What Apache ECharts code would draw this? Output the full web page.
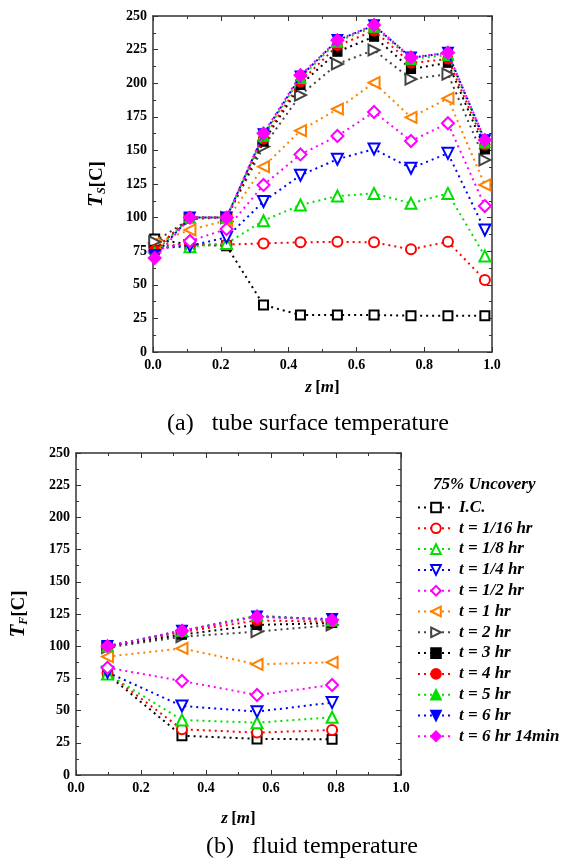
<!DOCTYPE html>
<html>
<head>
<meta charset="utf-8">
<script src="https://cdn.jsdelivr.net/npm/echarts@6/dist/echarts.min.js"></script>
<style>
  html, body { margin: 0; padding: 0; background: #fff; }
  #chart { width: 561px; height: 862px; }
</style>
</head>
<body>
<div id="chart"></div>
<script>
// Axial positions [m]
const zTube = [0.005, 0.109, 0.217, 0.326, 0.435, 0.544, 0.652, 0.761, 0.870, 0.979];
const zFluid = [0.097, 0.326, 0.557, 0.788];

// Legend labels
const seriesNames = ['I.C.', 't = 1/16 hr', 't = 1/8 hr', 't = 1/4 hr', 't = 1/2 hr', 't = 1 hr',
  't = 2 hr', 't = 3 hr', 't = 4 hr', 't = 5 hr', 't = 6 hr', 't = 6 hr 14min'];

// Tube surface temperature T_S [C]
const tsIC   = [84, 80, 79, 35, 27.5, 27.5, 27.5, 27, 27, 27];
const ts1_16 = [79, 80, 80, 80.8, 81.6, 82, 81.6, 76.4, 82, 53.6];
const ts1_8  = [78, 78.3, 80.8, 97.7, 109.4, 116, 118, 110.6, 118, 71.4];
const ts1_4  = [77, 79, 85.3, 112, 131.5, 143.4, 151, 136.7, 147.8, 90.8];
const ts1_2  = [75, 82.6, 91.5, 124.3, 147, 160.7, 178.6, 157, 170.2, 108.6];
const ts1    = [81, 90.8, 98, 137.9, 164.7, 180.8, 200.4, 174.6, 188.7, 124.3];
const ts2    = [82, 99, 100, 152.8, 191.2, 214.3, 224.7, 203, 206.8, 142.9];
const ts3    = [76, 100, 100, 156.5, 198.7, 223.4, 234.6, 210.6, 215.2, 150.8];
const ts4    = [76, 100, 100, 158.5, 201, 228, 239, 215, 218, 154];
const ts5    = [74, 100, 100, 161, 204, 231, 242, 218, 221, 156];
const ts6    = [72, 100, 100, 162, 205, 232, 243, 219, 222.5, 157.5];
const ts6_14 = [70, 100, 100, 162.7, 206, 232, 243.3, 219.2, 222.7, 157.7];

// Fluid temperature T_F [C]
const tfIC   = [78, 30.5, 28, 27.7];
const tf1_16 = [79, 35.5, 32.9, 34.9];
const tf1_8  = [78.4, 42.7, 40.6, 44.8];
const tf1_4  = [79.7, 53.6, 49.2, 56.2];
const tf1_2  = [83.3, 73, 62.1, 69.9];
const tf1    = [91.9, 98.3, 85.9, 87.5];
const tf2    = [99, 107.4, 111.3, 116.5];
const tf3    = [100, 109, 116.5, 118];
const tf4    = [100, 111, 120, 119];
const tf5    = [100, 112, 124, 120];
const tf6    = [100, 112, 123, 121];
const tf6_14 = [100, 112, 122.9, 120.3];

const tubeSets = [tsIC, ts1_16, ts1_8, ts1_4, ts1_2, ts1, ts2, ts3, ts4, ts5, ts6, ts6_14];
const fluidSets = [tfIC, tf1_16, tf1_8, tf1_4, tf1_2, tf1, tf2, tf3, tf4, tf5, tf6, tf6_14];

// Marker style per time level
const styles = [
  { color: '#000000', symbol: 'emptyRect', rotate: 0, size: 9 },
  { color: '#ff0000', symbol: 'emptyCircle', rotate: 0, size: 10 },
  { color: '#00e000', symbol: 'emptyTriangle', rotate: 0, size: 11 },
  { color: '#0000ff', symbol: 'emptyTriangle', rotate: 180, size: 11 },
  { color: '#ff00ff', symbol: 'emptyDiamond', rotate: 0, size: 12 },
  { color: '#ff8000', symbol: 'emptyTriangle', rotate: 90, size: 11 },
  { color: '#444444', symbol: 'emptyTriangle', rotate: -90, size: 11 },
  { color: '#000000', symbol: 'rect', rotate: 0, size: 9 },
  { color: '#ff0000', symbol: 'circle', rotate: 0, size: 10 },
  { color: '#00e000', symbol: 'triangle', rotate: 0, size: 11 },
  { color: '#0000ff', symbol: 'triangle', rotate: 180, size: 11 },
  { color: '#ff00ff', symbol: 'diamond', rotate: 0, size: 13 }
];

const serif = '"Liberation Serif", "DejaVu Serif", serif';
const frameColor = '#333';

function makeSeries(sets, xs, axisIndex) {
  return sets.map((vals, i) => ({
    name: seriesNames[i],
    type: 'line',
    xAxisIndex: axisIndex,
    yAxisIndex: axisIndex,
    data: vals.map((v, k) => [xs[k], v]),
    symbol: styles[i].symbol,
    symbolSize: styles[i].size,
    symbolRotate: styles[i].rotate,
    showAllSymbol: true,
    color: styles[i].color,
    lineStyle: { color: styles[i].color, width: 2, type: [2, 4] },
    itemStyle: { color: styles[i].color, borderColor: styles[i].color, borderWidth: 1.2 },
    emphasis: { disabled: true },
    animation: false,
    z: 2 + i
  }));
}

function xAxisDef(grid, pos, labels, name, nameGap) {
  return {
    type: 'value', gridIndex: grid, position: pos, min: 0, max: 1, interval: 0.2,
    axisLine: { show: true, onZero: false, lineStyle: { color: frameColor, width: 1.5 } },
    axisTick: { show: true, inside: true, length: 5, lineStyle: { color: frameColor } },
    minorTick: { show: true, splitNumber: 2, length: 3, lineStyle: { color: frameColor } },
    splitLine: { show: false },
    axisLabel: {
      show: labels, margin: 6, color: '#000', fontFamily: serif, fontWeight: 'bold', fontSize: 14,
      formatter: v => v.toFixed(1)
    },
    name: labels ? name : '',
    nameLocation: 'middle',
    nameGap: nameGap,
    nameTextStyle: {
      rich: {
        i: { fontFamily: serif, fontStyle: 'italic', fontWeight: 'bold', fontSize: 17, color: '#000' },
        b: { fontFamily: serif, fontWeight: 'bold', fontSize: 17, color: '#000' }
      }
    }
  };
}

function yAxisDef(grid, pos, labels, name, nameGap) {
  return {
    type: 'value', gridIndex: grid, position: pos, min: 0, max: 250, interval: 25,
    axisLine: { show: true, onZero: false, lineStyle: { color: frameColor, width: 1.5 } },
    axisTick: { show: true, inside: true, length: 5, lineStyle: { color: frameColor } },
    minorTick: { show: true, splitNumber: 2, length: 3, lineStyle: { color: frameColor } },
    splitLine: { show: false },
    axisLabel: { show: labels, margin: 6, color: '#000', fontFamily: serif, fontWeight: 'bold', fontSize: 14 },
    name: labels ? name : '',
    nameLocation: 'middle',
    nameGap: nameGap,
    nameRotate: 90,
    nameTextStyle: {
      rich: {
        t: { fontFamily: serif, fontStyle: 'italic', fontWeight: 'bold', fontSize: 21, color: '#000' },
        s: { fontFamily: serif, fontStyle: 'italic', fontWeight: 'bold', fontSize: 12, color: '#000', padding: [10, 0, 0, 0] },
        c: { fontFamily: serif, fontWeight: 'bold', fontSize: 19, color: '#000' }
      }
    }
  };
}

const chart = echarts.init(document.getElementById('chart'), null, { renderer: 'canvas' });

chart.setOption({
  backgroundColor: '#fff',
  animation: false,
  grid: [
    { left: 153, top: 16, width: 339, height: 336 },
    { left: 76, top: 453, width: 325, height: 322 }
  ],
  xAxis: [
    xAxisDef(0, 'bottom', true, '{i|z} {b|[}{i|m}{b|]}', 27),
    xAxisDef(1, 'bottom', true, '{i|z} {b|[}{i|m}{b|]}', 35),
    xAxisDef(0, 'top', false),
    xAxisDef(1, 'top', false)
  ],
  yAxis: [
    yAxisDef(0, 'left', true, '{t|T}{s|S}{c|[C]}', 45),
    yAxisDef(1, 'left', true, '{t|T}{s|F}{c|[C]}', 46),
    yAxisDef(0, 'right', false),
    yAxisDef(1, 'right', false)
  ],
  legend: {
    orient: 'vertical',
    left: 412,
    top: 494,
    itemWidth: 36,
    itemHeight: 12,
    itemGap: 3.8,
    data: seriesNames,
    textStyle: { fontFamily: serif, fontStyle: 'italic', fontWeight: 'bold', fontSize: 17, color: '#000' },
    selectedMode: false
  },
  graphic: [
    {
      type: 'text', left: 433, top: 476,
      style: { text: '75% Uncovery', fontFamily: serif, fontStyle: 'italic', fontWeight: 'bold', fontSize: 17, fill: '#000' }
    },
    {
      type: 'text', left: 167, top: 412,
      style: { text: '(a)   tube surface temperature', fontFamily: serif, fontSize: 24, fill: '#000' }
    },
    {
      type: 'text', left: 206, top: 835,
      style: { text: '(b)   fluid temperature', fontFamily: serif, fontSize: 24, fill: '#000' }
    }
  ],
  series: makeSeries(tubeSets, zTube, 0).concat(makeSeries(fluidSets, zFluid, 1))
});
</script>
</body>
</html>
